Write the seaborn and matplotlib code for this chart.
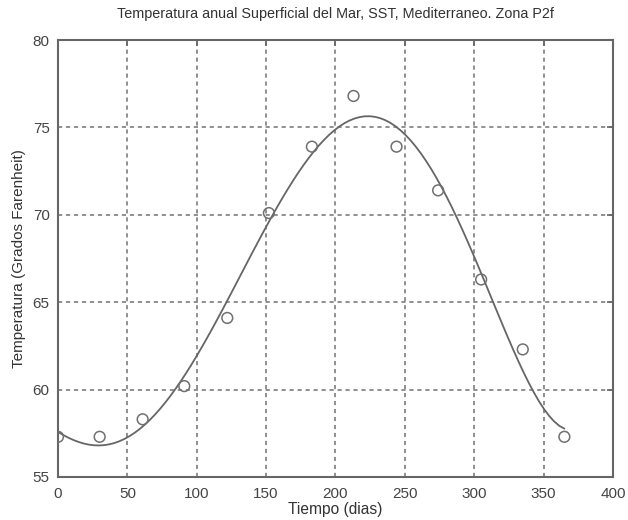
import matplotlib
matplotlib.use("Agg")
import matplotlib.pyplot as plt
import seaborn as sns
import pandas as pd

dias = [0, 30, 61, 91, 122, 152, 183, 213, 244, 274, 305, 335, 365]
temperatura = [57.3, 57.3, 58.3, 60.2, 64.1, 70.1, 73.9, 76.8, 73.9, 71.4, 66.3, 62.3, 57.3]

titulo = "Temperatura anual Superficial del Mar, SST, Mediterraneo. Zona P2f"
xlabel = "Tiempo (dias)"
ylabel = "Temperatura (Grados Farenheit)"
xticks = [0, 50, 100, 150, 200, 250, 300, 350, 400]
yticks = [55, 60, 65, 70, 75, 80]

df = pd.DataFrame({"dias": dias, "temp": temperatura})

sns.set_style("white")
plt.rcParams["font.family"] = ["Liberation Sans", "DejaVu Sans"]

fig = plt.figure(figsize=(6.28, 5.2), dpi=100)
ax = fig.add_axes([0.0924, 0.0827, 0.8836, 0.8403])

# polynomial fit (degree 5) of the data, as in the original
sns.regplot(data=df, x="dias", y="temp", order=5, ci=None, ax=ax,
            scatter=False, line_kws=dict(color="#666666", lw=1.3),
            truncate=True)
sns.scatterplot(data=df, x="dias", y="temp", ax=ax, marker="o", s=60,
                facecolor="none", edgecolor="#707070", linewidth=1.1, zorder=3)

ax.set_xlim(0, 400)
ax.set_ylim(55, 80)
ax.set_xticks(xticks)
ax.set_yticks(yticks)
ax.grid(True, linestyle=(0, (2.6, 2.4)), color="#777777", linewidth=1.15)
for s in ax.spines.values():
    s.set_color("#666666")
    s.set_linewidth(1.5)
ax.tick_params(axis="both", labelsize=11, colors="#666666", labelcolor="#444444",
               length=4, width=1.2, direction="in", top=True, right=True)
ax.tick_params(axis="x", pad=7)
ax.tick_params(axis="y", pad=6)
ax.set_title(titulo, fontsize=10.4, color="#333333", pad=16)
ax.set_xlabel(xlabel, fontsize=11.2, color="#333333", labelpad=1)
ax.set_ylabel(ylabel, fontsize=11, color="#333333", labelpad=5)

fig.savefig("out.png", dpi=100)
